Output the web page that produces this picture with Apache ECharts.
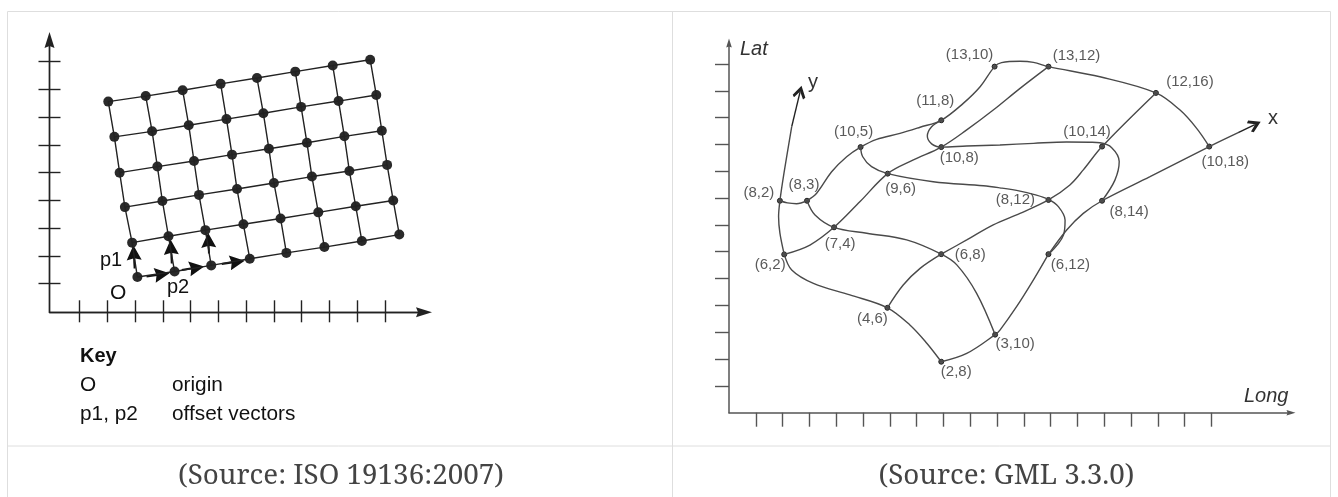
<!DOCTYPE html>
<html><head><meta charset="utf-8">
<style>html,body{margin:0;padding:0;background:#fff}#c{width:1338px;height:497px}</style>
<script src="https://cdn.jsdelivr.net/npm/echarts@6/dist/echarts.min.js"></script>
</head><body><div id="c"></div>
<script>
// ---- left chart: rectified grid, values in axis tick units, rows listed bottom to top
const gridRow0 = [[3.08,1.24],[4.42,1.44],[5.74,1.66],[7.13,1.90],[8.45,2.11],[9.82,2.32],[11.17,2.54],[12.52,2.77]];
const gridRow1 = [[2.89,2.48],[4.20,2.71],[5.53,2.93],[6.90,3.14],[8.24,3.35],[9.60,3.57],[10.95,3.79],[12.30,4.00]];
const gridRow2 = [[2.63,3.76],[3.98,3.98],[5.30,4.20],[6.67,4.41],[8.00,4.63],[9.37,4.86],[10.72,5.06],[12.08,5.28]];
const gridRow3 = [[2.44,5.00],[3.80,5.22],[5.12,5.42],[6.49,5.65],[7.82,5.86],[9.19,6.08],[10.54,6.31],[11.89,6.51]];
const gridRow4 = [[2.25,6.29],[3.61,6.49],[4.93,6.71],[6.29,6.93],[7.62,7.14],[8.98,7.37],[10.33,7.58],[11.69,7.80]];
const gridRow5 = [[2.03,7.56],[3.38,7.76],[4.71,7.97],[6.08,8.20],[7.39,8.41],[8.77,8.64],[10.12,8.86],[11.47,9.07]];
const p1Vectors = [[[2.98,1.55],[2.95,2.12]],[[4.32,1.73],[4.29,2.32]],[[5.66,2.09],[5.64,2.57]]];
const p2Vectors = [[[3.41,1.26],[3.97,1.34]],[[4.68,1.49],[5.22,1.58]],[[6.12,1.71],[6.68,1.79]]];
const leftXTicks = [1,2,3,4,5,6,7,8,9,10,11,12];
const leftYTicks = [1,2,3,4,5,6,7,8,9];

// ---- right chart: referenceable grid, [Long, Lat]
const pointLabels = ['(8,2)','(8,3)','(6,2)','(7,4)','(10,5)','(9,6)','(11,8)','(10,8)','(6,8)','(4,6)','(2,8)','(3,10)','(13,10)','(13,12)','(12,16)','(10,14)','(10,18)','(8,12)','(8,14)','(6,12)'];
const pointValues = [[1.90,7.90],[2.91,7.90],[2.06,5.90],[3.92,6.91],[4.91,9.90],[5.92,8.91],[7.92,10.90],[7.92,9.90],[7.92,5.91],[5.91,3.91],[7.92,1.90],[9.93,2.91],[9.91,12.90],[11.92,12.90],[15.93,11.92],[13.92,9.92],[17.92,9.92],[11.92,7.93],[13.92,7.90],[11.92,5.91]];
const labelOffsets = [[-21,-8],[-3,-16],[-14,10],[6,17],[-7,-15],[13,15],[-6,-19],[18,11],[29,1],[-15,11],[15,10],[20,9],[-25,-12],[28,-11],[34,-11],[-15,-15],[16,15],[-33,0],[27,11],[22,11]];
const curveYAxis = [[2.06,5.90],[1.90,6.69],[1.85,7.31],[1.90,7.90],[2.05,8.92],[2.34,10.66]];
const curveA = [[1.90,7.90],[2.18,7.82],[2.52,7.79],[2.91,7.90]];
const curveB = [[2.91,7.90],[3.27,8.18],[3.83,8.98],[4.39,9.54],[4.91,9.90],[5.51,10.19],[6.38,10.41],[7.13,10.64],[7.92,10.90],[8.74,11.53],[9.37,12.15],[9.91,12.90],[10.17,13.05],[10.86,13.10],[11.36,13.06],[11.92,12.90],[13.84,12.52],[15.93,11.92],[16.83,11.28],[17.45,10.60],[17.92,9.92]];
const curveC = [[2.06,5.90],[3.02,6.25],[3.92,6.91],[4.89,7.87],[5.92,8.91],[6.88,9.42],[7.92,9.90],[8.87,10.54],[9.86,11.28],[10.86,12.09],[11.92,12.90]];
const curveD = [[7.92,10.90],[7.56,10.66],[7.40,10.31],[7.56,10.02],[7.92,9.90],[8.87,9.94],[10.11,9.98],[11.36,10.04],[12.60,10.09],[13.47,10.08],[13.84,10.06],[14.28,9.88],[14.56,9.36],[14.40,8.67],[13.92,7.90]];
const curveE = [[4.91,9.90],[4.99,9.54],[5.32,9.17],[5.92,8.91],[7.62,8.61],[9.49,8.46],[10.11,8.38],[10.86,8.26],[11.36,8.14],[11.92,7.95],[12.29,7.68],[12.54,7.18],[12.48,6.62],[11.92,5.90]];
const curveF = [[2.91,7.90],[3.21,7.37],[3.92,6.91],[5.14,6.69],[6.63,6.44],[7.92,5.91],[8.50,5.51],[9.24,4.45],[9.93,2.91]];
const curveG = [[7.92,5.91],[8.87,6.44],[9.86,7.00],[10.86,7.43],[11.92,7.93],[12.72,8.49],[13.22,9.05],[13.92,9.92],[15.93,11.92]];
const curveH = [[5.91,3.91],[6.50,4.76],[7.13,5.38],[7.92,5.91]];
const curveI = [[2.06,5.91],[2.34,5.32],[3.15,4.82],[4.51,4.39],[5.91,3.91],[6.75,3.27],[7.38,2.59],[7.92,1.90]];
const curveJ = [[7.92,1.90],[8.87,2.21],[9.93,2.91],[10.11,3.08],[10.73,3.95],[11.36,4.95],[11.92,5.91]];
const curveXAxis = [[11.92,5.90],[12.60,6.81],[13.22,7.43],[13.92,7.90],[15.71,8.80],[17.92,9.92],[19.00,10.44]];
const rightArrows = [[[2.34,10.66],[2.65,11.95]],[[19.00,10.44],[19.62,10.74]]];
const rightXTicks = [1,2,3,4,5,6,7,8,9,10,11,12,13,14,15,16,17,18];
const rightYTicks = [1,2,3,4,5,6,7,8,9,10,11,12,13];

const sans = '"Liberation Sans", Arial, sans-serif';
const serif = '"Noto Serif","DejaVu Serif",serif';
const leftInk = '#222', rightInk = '#4a4a4a', border = '#dedede';
const solidArrow = 'path://M5,0 L10,16 L5,14 L0,16 Z';
const openArrow = 'path://M0,10 L7,0 L14,10 L12,12 L7,5.5 L2,12 Z';

const gridRows = [gridRow0,gridRow1,gridRow2,gridRow3,gridRow4,gridRow5];
const gridCols = gridRow0.map((_,i)=>gridRows.map(r=>r[i]));
const series = [];
gridRows.concat(gridCols).forEach(d=>series.push({type:'line',data:d,xAxisIndex:0,yAxisIndex:0,showSymbol:false,silent:true,lineStyle:{color:leftInk,width:1.4}}));
series.push({type:'scatter',data:gridRows.flat(),xAxisIndex:0,yAxisIndex:0,symbolSize:10,itemStyle:{color:'#2a2a2a',opacity:1},silent:true});
series.push({type:'lines',coordinateSystem:'cartesian2d',xAxisIndex:0,yAxisIndex:0,silent:true,symbol:['none',solidArrow],symbolSize:[11,15],
  lineStyle:{color:'#111',width:2,opacity:1,curveness:0},data:p1Vectors.concat(p2Vectors).map(c=>({coords:c}))});
[curveYAxis,curveA,curveB,curveC,curveD,curveE,curveF,curveG,curveH,curveI,curveJ,curveXAxis].forEach(d=>series.push({type:'line',data:d,xAxisIndex:2,yAxisIndex:2,smooth:0.35,showSymbol:false,silent:true,lineStyle:{color:rightInk,width:1.4}}));
series.push({type:'lines',coordinateSystem:'cartesian2d',xAxisIndex:2,yAxisIndex:2,silent:true,symbol:['none',openArrow],symbolSize:[15,13],
  lineStyle:{color:'#222',width:1.4,opacity:1,curveness:0},data:rightArrows.map(c=>({coords:c}))});
series.push({type:'scatter',xAxisIndex:2,yAxisIndex:2,symbolSize:5,silent:true,itemStyle:{color:'#555',borderColor:'#222',borderWidth:1,opacity:1},
  data:pointValues.map((v,i)=>({value:v,label:{show:true,position:'inside',offset:labelOffsets[i],formatter:pointLabels[i],fontFamily:sans,fontSize:15,color:'#5a5a5a'}}))});

const axisBase = (min,max,ticks,len,inside,color)=>({type:'value',min,max,splitLine:{show:false},axisLabel:{show:false},
  axisTick:{show:true,inside,length:len,customValues:ticks,lineStyle:{color,width:1.4}}});
const xL = (inside,len,arrow)=>Object.assign(axisBase(-0.088,13.41,leftXTicks,len,inside,'#222'),{gridIndex:0,position:'bottom',
  axisLine:{show:true,onZero:false,symbol:arrow?['none',solidArrow]:'none',symbolSize:[10,16],lineStyle:{color:'#222',width:1.4}}});
const yL = (inside,len,arrow)=>Object.assign(axisBase(-0.03,9.78,leftYTicks,len,inside,'#222'),{gridIndex:0,position:'left',
  axisLine:{show:true,onZero:false,symbol:arrow?['none',solidArrow]:'none',symbolSize:[10,16],lineStyle:{color:'#222',width:1.4}}});

const txt = (text,x,y,fontSize,extra)=>({type:'text',silent:true,x,y,style:Object.assign({text,fontFamily:sans,fontSize,fill:'#111',textAlign:'left',textVerticalAlign:'middle'},extra||{})});
const ln = (x1,y1,x2,y2)=>({type:'line',silent:true,shape:{x1,y1,x2,y2},style:{stroke:border,lineWidth:1}});

echarts.init(document.getElementById('c'),null,{renderer:'canvas'}).setOption({
  animation:false,backgroundColor:'#fff',
  grid:[{left:49.5,top:40,width:374.5,height:272.3,containLabel:false},{left:729,top:43,width:562,height:369.7}],
  xAxis:[xL(false,10,true),xL(true,12,false),
    Object.assign(axisBase(0,20.97,rightXTicks,14,false,'#555'),{gridIndex:1,position:'bottom',axisLine:{show:true,onZero:false,symbol:['none',solidArrow],symbolSize:[9,9],lineStyle:{color:'#555',width:1.5}}})],
  yAxis:[yL(false,11,true),yL(true,11,false),
    Object.assign(axisBase(0,13.78,rightYTicks,14,false,'#555'),{gridIndex:1,position:'left',axisLine:{show:true,onZero:false,symbol:['none',solidArrow],symbolSize:[9,9],lineStyle:{color:'#555',width:1.5}}})],
  series,
  graphic:{elements:[
    ln(7.5,11.5,1330.5,11.5),ln(7.5,11.5,7.5,497),ln(672.5,11.5,672.5,497),ln(1330.5,11.5,1330.5,497),ln(7.5,446,1330.5,446),
    txt('O',110,293,21),txt('p1',100,260,20),txt('p2',167,287,20),
    txt('Key',80,356,20,{fontWeight:'bold'}),txt('O',80,385,20.8),txt('origin',172,385,20.8),txt('p1, p2',80,414,20.8),txt('offset vectors',172,414,20.8),
    txt('Lat',740,49,20,{fontStyle:'italic',fill:'#333'}),txt('Long',1244,396,20,{fontStyle:'italic',fill:'#333'}),
    txt('y',808,82,20,{fill:'#333'}),txt('x',1268,118,20,{fill:'#333'}),
    txt('(Source: ISO 19136:2007)',341,476,27.8,{fontFamily:serif,fill:'#444',textAlign:'center'}),
    txt('(Source: GML 3.3.0)',1006.5,476,27.8,{fontFamily:serif,fill:'#444',textAlign:'center'})
  ]}
});
</script></body></html>
